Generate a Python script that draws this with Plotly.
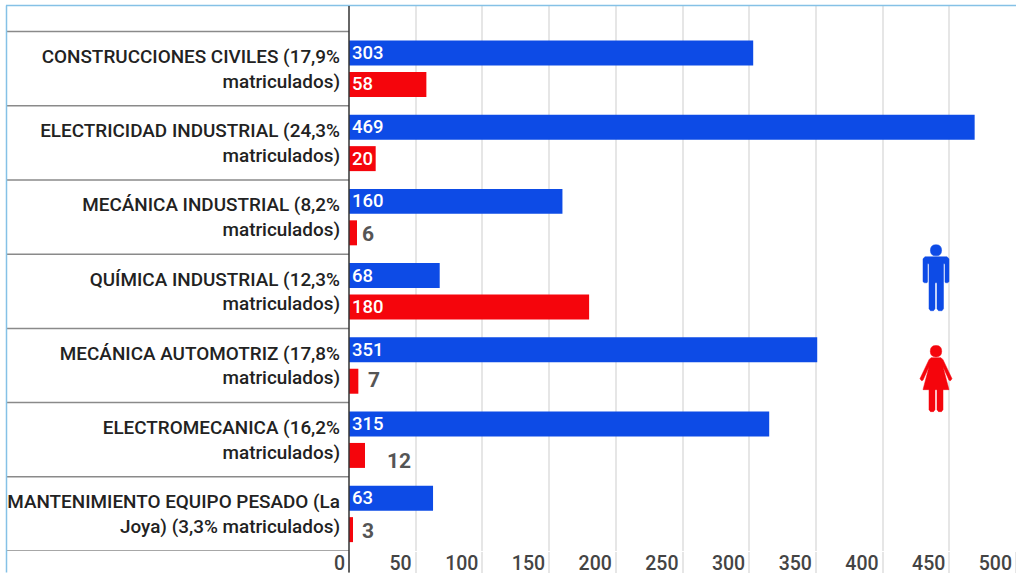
import plotly.graph_objects as go

careers = [
    "CONSTRUCCIONES CIVILES (17,9%<br>matriculados)",
    "ELECTRICIDAD INDUSTRIAL (24,3%<br>matriculados)",
    "MECÁNICA INDUSTRIAL (8,2%<br>matriculados)",
    "QUÍMICA INDUSTRIAL (12,3%<br>matriculados)",
    "MECÁNICA AUTOMOTRIZ (17,8%<br>matriculados)",
    "ELECTROMECANICA (16,2%<br>matriculados)",
    "MANTENIMIENTO EQUIPO PESADO (La<br>Joya) (3,3% matriculados)",
]
men = [303, 469, 160, 68, 351, 315, 63]
women = [58, 20, 6, 180, 7, 12, 3]
x_ticks = [0, 50, 100, 150, 200, 250, 300, 350, 400, 450, 500]

BLUE = "#0d4be6"
RED = "#f5050c"
W, H = 1016, 573
L, T, B = 349, 6, 21.5
PW, PH = W - L, H - T - B
FONT = "Roboto"


def fx(px):
    return (px - L) / PW


def fy(py):
    return 1 - (py - T) / PH


positions = list(range(len(careers)))
fig = go.Figure()
fig.add_bar(
    y=positions, x=men, orientation="h", marker=dict(color=BLUE, line_width=0),
    text=[str(v) for v in men], textposition="inside", insidetextanchor="start",
    textangle=0, constraintext="none",
    insidetextfont=dict(family=FONT, size=18.5, color="white", weight=500), cliponaxis=False,
)
fig.add_bar(
    y=positions, x=women, orientation="h", marker=dict(color=RED, line_width=0),
    text=[str(v) if v >= 20 else "" for v in women], textposition="inside", insidetextanchor="start",
    textangle=0, constraintext="none",
    insidetextfont=dict(family=FONT, size=18.5, color="white", weight=500), cliponaxis=False,
)

small_offsets = {2: (11, 2), 4: (16, -1), 5: (34, 6), 6: (15, 2)}
annotations = [
    dict(x=women[i], y=i + 0.206, xref="x", yref="y", text=str(women[i]), showarrow=False,
         xshift=dx, yshift=-dy, font=dict(family=FONT, size=21, color="#555555", weight=700))
    for i, (dx, dy) in small_offsets.items()
]

shapes = []
for i in range(len(careers) + 1):
    shapes.append(dict(type="line", xref="paper", yref="y", x0=fx(7), x1=0, y0=i - 0.5, y1=i - 0.5,
                       line=dict(color="#8a8a8a", width=1.5)))
# frame and axis extension
shapes += [
    dict(type="line", xref="paper", yref="paper", x0=fx(6), x1=1, y0=fy(5.5), y1=fy(5.5),
         line=dict(color="#85c1e6", width=1.5)),
    dict(type="line", xref="paper", yref="paper", x0=fx(6.5), x1=fx(6.5), y0=fy(5.5), y1=fy(573),
         line=dict(color="#85c1e6", width=1.5)),
    dict(type="line", xref="paper", yref="paper", x0=0, x1=0, y0=fy(6), y1=fy(573),
         line=dict(color="#333333", width=1.5)),
]


def icon(path, color):
    shapes.append(dict(type="path", xref="paper", yref="paper", path=path,
                       fillcolor=color, line=dict(color=color, width=0.5)))


def P(points):
    return "M" + " L".join(f"{fx(a):.5f},{fy(b):.5f}" for a, b in points) + " Z"


def disc(cx, cy, r):
    return (f"M{fx(cx - r):.5f},{fy(cy):.5f} "
            f"Q{fx(cx - r):.5f},{fy(cy - r):.5f} {fx(cx):.5f},{fy(cy - r):.5f} "
            f"Q{fx(cx + r):.5f},{fy(cy - r):.5f} {fx(cx + r):.5f},{fy(cy):.5f} "
            f"Q{fx(cx + r):.5f},{fy(cy + r):.5f} {fx(cx):.5f},{fy(cy + r):.5f} "
            f"Q{fx(cx - r):.5f},{fy(cy + r):.5f} {fx(cx - r):.5f},{fy(cy):.5f} Z")


# man pictogram
icon(disc(936, 250.5, 5.6), BLUE)
icon(P([(925, 257), (947, 257), (949, 259), (949, 282), (947.5, 283), (945.5, 283), (945, 282), (945, 264),
        (943.5, 264), (943.5, 309), (942, 311), (938.5, 311), (937, 309), (937, 283), (935, 283), (935, 309),
        (933.5, 311), (930.5, 311), (929, 309), (929, 264), (927.5, 264), (927.5, 282), (927, 283), (924.5, 283),
        (923, 282), (923, 259)]), BLUE)
# woman pictogram
icon(disc(936, 351.5, 5.7), RED)
icon(P([(931, 358), (941, 358), (943, 360), (952, 379), (950.5, 381), (949, 380.5), (943, 367), (949, 390),
        (943, 390), (943, 410), (941.5, 412), (938.5, 412), (937, 410), (937, 390), (935, 390), (935, 410),
        (933.5, 412), (930.5, 412), (929, 410), (929, 390), (923, 390), (929, 367), (923, 380.5), (921.5, 381),
        (920, 379), (929, 360)]), RED)

fig.update_layout(
    width=W, height=H, autosize=False,
    margin=dict(l=L, r=0, t=T, b=B, pad=0),
    paper_bgcolor="white", plot_bgcolor="white",
    barmode="group", bargap=0.152, bargroupgap=0.206,
    showlegend=False, shapes=shapes, annotations=annotations,
    font=dict(family=FONT),
    xaxis=dict(range=[0, 500], tickvals=x_ticks, showgrid=True, gridcolor="#e6e6e6", gridwidth=2,
               zeroline=False, showline=False, ticks="outside", ticklen=22, tickwidth=2, tickcolor="#e6e6e6",
               ticklabelposition="outside left", ticklabelstandoff=-5, ticklabelshift=-3,
               tickfont=dict(family=FONT, size=19.5, color="#444444", weight=500), automargin=False),
    yaxis=dict(range=[6.5, -0.845], tickvals=positions, ticktext=careers, showgrid=False, zeroline=False,
               showline=False, ticks="", ticklabelstandoff=8,
               tickfont=dict(family=FONT, size=18.9, color="#222222", weight=500), automargin=False),
)
fig.write_html("out.html", config=dict(displayModeBar=False),
               post_script="document.body.style.margin='0';")
